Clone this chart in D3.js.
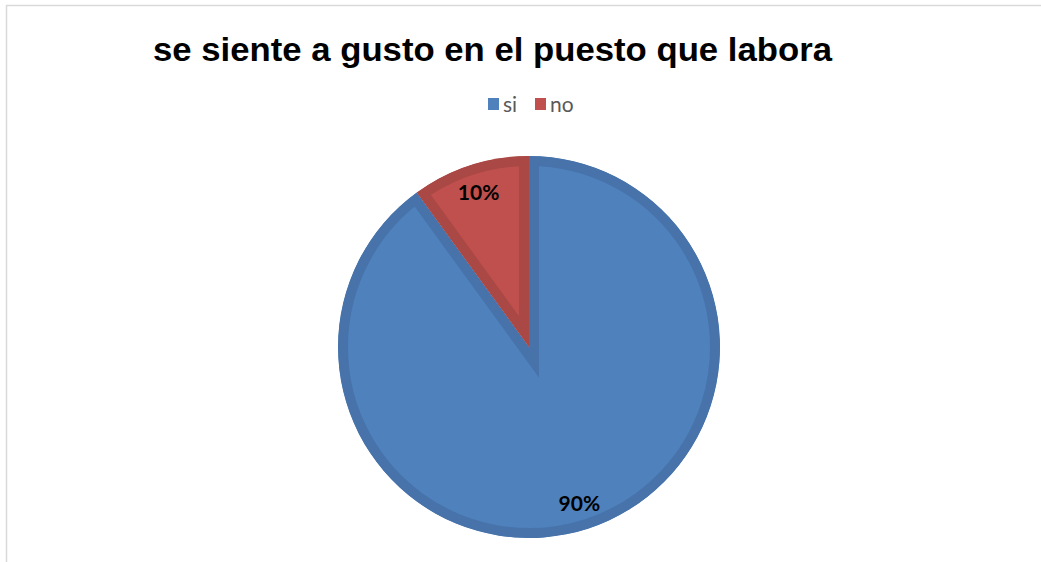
<!DOCTYPE html>
<html>
<head>
<meta charset="utf-8">
<script src="https://cdn.jsdelivr.net/npm/d3@7"></script>
<style>
  html, body { margin: 0; padding: 0; background: #fff; }
  svg { display: block; }
</style>
</head>
<body>
<svg id="chart" width="1041" height="562"></svg>
<script>
// Survey answers and their shares
const categories = ["si", "no"];
const values = [90, 10];
const labels = ["90%", "10%"];
const title = "se siente a gusto en el puesto que labora";

const fills = ["#4f81bd", "#c0504d"];
const edges = ["#4773aa", "#a94845"];

const svg = d3.select("#chart");
const W = 1041, H = 562;

// Chart frame
svg.append("path")
  .attr("d", `M6.5,${H} L6.5,5.5 L${W},5.5`)
  .attr("fill", "none")
  .attr("stroke", "#d9d9d9")
  .attr("stroke-width", 1.5);

// Title
svg.append("text")
  .attr("x", 153)
  .attr("y", 61)
  .attr("font-family", "Liberation Sans, Arial, sans-serif")
  .attr("font-weight", "bold")
  .attr("font-size", 34)
  .attr("textLength", 679)
  .attr("lengthAdjust", "spacingAndGlyphs")
  .attr("fill", "#000")
  .text(title);

// Legend
const legendX = [488, 535];
const legend = svg.append("g");
categories.forEach((c, i) => {
  legend.append("rect")
    .attr("x", legendX[i]).attr("y", 98)
    .attr("width", 11).attr("height", 12)
    .attr("fill", fills[i]);
  legend.append("text")
    .attr("x", legendX[i] + 15).attr("y", 112)
    .attr("font-family", "Lato, Open Sans, sans-serif")
    .attr("font-size", 21)
    .attr("fill", "#595959")
    .text(c);
});

// Pie
const cx = 529, cy = 347, R = 191;
const pie = d3.pie().sort(null).value(d => d).startAngle(0).endAngle(2 * Math.PI);
const arcs = pie(values);
const arc = d3.arc().innerRadius(0).outerRadius(R);
const labelArc = d3.arc().innerRadius(163).outerRadius(163);

const g = svg.append("g").attr("transform", `translate(${cx},${cy})`);
const defs = svg.append("defs");

arcs.forEach((a, i) => {
  const id = "clip-" + i;
  defs.append("clipPath").attr("id", id)
    .append("path").attr("d", arc(a));
  g.append("path")
    .attr("d", arc(a))
    .attr("fill", fills[i])
    .attr("stroke", edges[i])
    .attr("stroke-width", 20)
    .attr("stroke-linejoin", "miter")
    .attr("stroke-miterlimit", 10)
    .attr("clip-path", `url(#${id})`);
});

// Percentage labels
arcs.forEach((a, i) => {
  const [lx, ly] = labelArc.centroid(a);
  g.append("text")
    .attr("x", lx).attr("y", ly)
    .attr("text-anchor", "middle")
    .attr("dominant-baseline", "central")
    .attr("font-family", "Lato, Open Sans, sans-serif")
    .attr("font-weight", "bold")
    .attr("font-size", 21)
    .attr("fill", "#000")
    .text(labels[i]);
});
</script>
</body>
</html>
